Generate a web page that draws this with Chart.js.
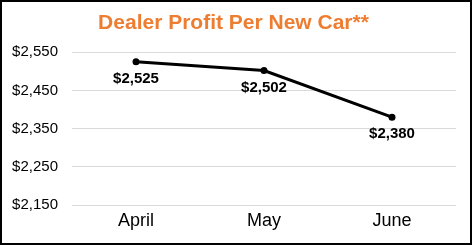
<!DOCTYPE html>
<html>
<head>
<meta charset="utf-8">
<script src="https://cdn.jsdelivr.net/npm/chart.js@4/dist/chart.umd.min.js"></script>
<style>
  html, body { margin: 0; padding: 0; background: #fff; }
  .wrap { position: relative; width: 472px; height: 245px; }
  .frame { position: absolute; left: 0; top: 0; width: 472px; height: 245px; box-sizing: border-box; border: 2px solid #000; pointer-events: none; }
  canvas { display: block; }
</style>
</head>
<body>
<div class="wrap">
  <canvas id="chart" width="472" height="245"></canvas>
  <div class="frame"></div>
</div>
<script>
const months = ['April', 'May', 'June'];
const profit = [2525, 2502, 2380];
const yTicks = [2150, 2250, 2350, 2450, 2550];

const FONT = "'Liberation Sans', Arial, sans-serif";
const money = v => '$' + v.toLocaleString('en-US');

// draws the "$2,525" style labels under each point
const pointLabels = {
  id: 'pointLabels',
  afterDatasetsDraw(chart) {
    const ctx = chart.ctx;
    const meta = chart.getDatasetMeta(0);
    ctx.save();
    ctx.font = 'bold 15px ' + FONT;
    ctx.fillStyle = '#000';
    ctx.textAlign = 'center';
    ctx.textBaseline = 'middle';
    meta.data.forEach((pt, i) => {
      ctx.fillText(money(profit[i]), pt.x, pt.y + 17);
    });
    ctx.restore();
  }
};

const ctx = document.getElementById('chart').getContext('2d');
new Chart(ctx, {
  type: 'line',
  data: {
    labels: months,
    datasets: [{
      data: profit,
      borderColor: '#000',
      backgroundColor: '#000',
      borderWidth: 3,
      pointRadius: 3.5,
      pointBackgroundColor: '#000',
      pointBorderWidth: 0,
      tension: 0
    }]
  },
  options: {
    responsive: false,
    animation: false,
    layout: { padding: { left: 0, right: 5, top: 0, bottom: 15 } },
    plugins: {
      legend: { display: false },
      tooltip: { enabled: false },
      title: {
        display: true,
        text: 'Dealer Profit Per New Car**',
        color: '#ED7D31',
        font: { family: FONT, size: 21, weight: 'bold' },
        padding: { top: 11, bottom: 16 }
      }
    },
    scales: {
      x: {
        offset: true,
        afterFit: scale => { scale.height = 25; },
        grid: { display: false, drawTicks: false },
        border: { display: false },
        ticks: { color: '#000', font: { family: FONT, size: 18 }, padding: 5 }
      },
      y: {
        min: yTicks[0],
        max: yTicks[yTicks.length - 1],
        afterBuildTicks: scale => { scale.ticks = yTicks.map(v => ({ value: v })); },
        afterFit: scale => { scale.width = 72; },
        grid: { color: '#d9d9d9', lineWidth: 1, drawTicks: false },
        border: { display: false },
        ticks: {
          color: '#000',
          font: { family: FONT, size: 15 },
          padding: 14,
          callback: v => money(v)
        }
      },
      // empty right-hand spacer so the plot ends where the reference's does
      spacer: {
        position: 'right',
        afterFit: scale => { scale.width = 11; },
        grid: { display: false, drawTicks: false },
        border: { display: false },
        ticks: { display: false }
      }
    }
  },
  plugins: [pointLabels]
});
</script>
</body>
</html>
